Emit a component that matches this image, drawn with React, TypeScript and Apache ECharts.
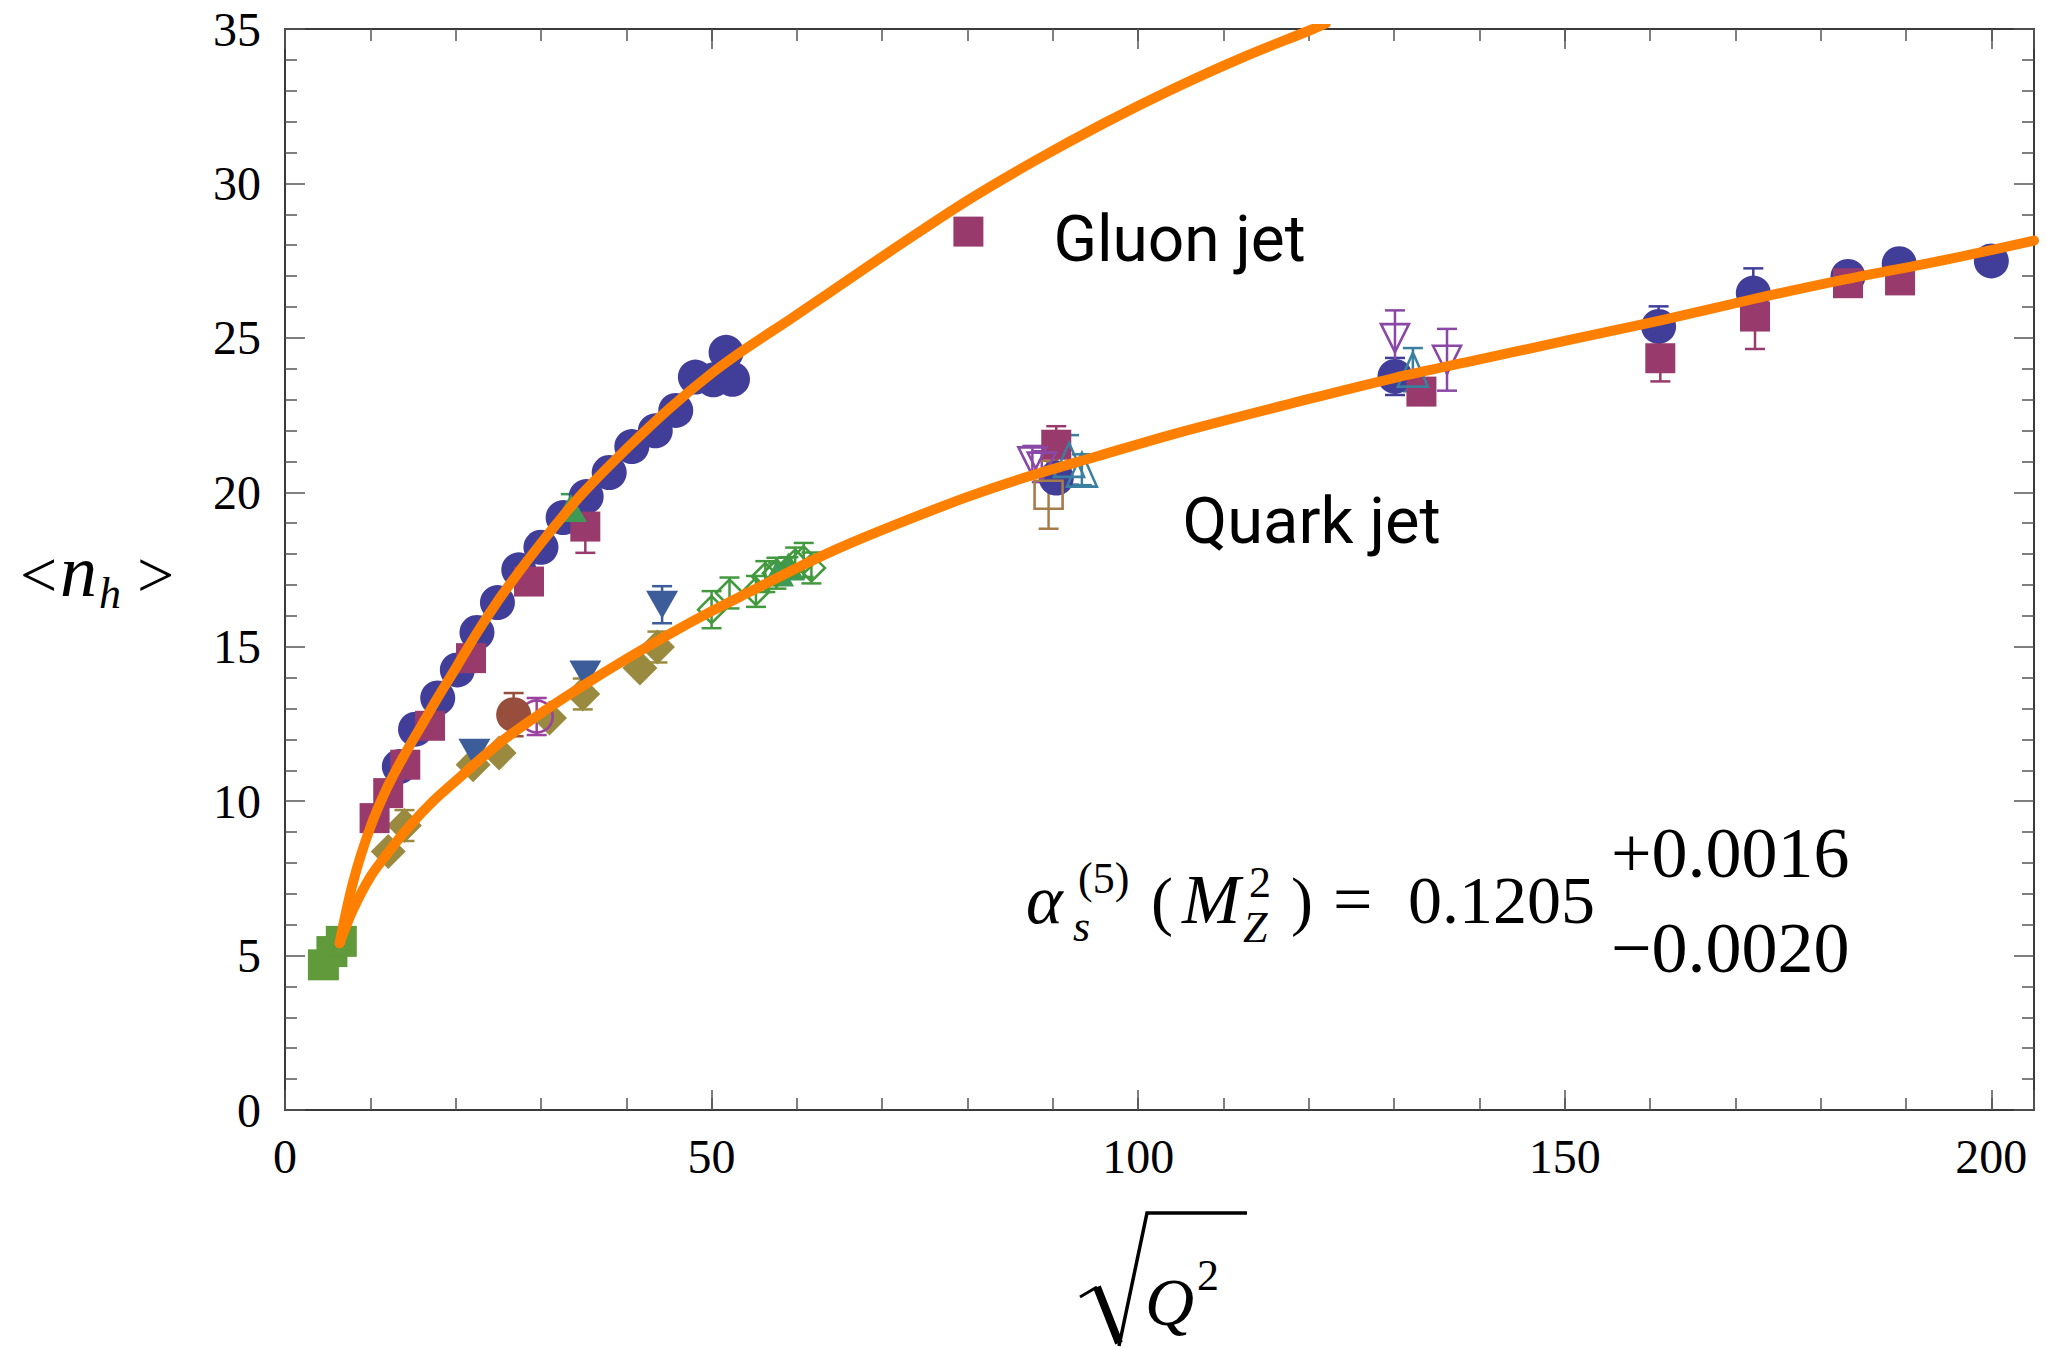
import React, { useEffect, useRef } from 'react';
import * as echarts from 'echarts';

const W = 2047;
const H = 1348;

// ---- data (x = sqrt(Q^2), y = <n_h>, third value = error) ----
const gluonCurve = [[6.4,5.4],[8,7.4],[10,9.15],[12,10.45],[14,11.5],[16,12.45],[18,13.4],[20,14.3],[22.5,15.45],[25,16.5],[27.5,17.45],[30,18.35],[32.5,19.2],[35,20.0],[40,21.4],[45,22.7],[50,23.85],[54,24.65],[59.2,25.6],[64,26.5],[72,28.0],[80,29.45],[88,30.75],[96,31.95],[104,33.05],[112,34.05],[120.5,35.0],[122,35.18]];
const quarkCurve = [[6.4,5.4],[8,6.5],[10,7.55],[12,8.3],[14,9.0],[17,9.9],[20,10.65],[25,11.85],[30,12.85],[35,13.75],[40,14.6],[45,15.4],[50,16.15],[55,16.85],[60,17.55],[65,18.2],[72,19.0],[80,19.85],[87,20.5],[95,21.15],[105,21.95],[119,22.95],[130,23.7],[140,24.3],[150,24.9],[161,25.55],[172,26.25],[183,26.9],[195,27.55],[205,28.15]];

const blueCircles = [[13.4,11.12,0],[15.3,12.33,0],[17.9,13.34,0],[20.2,14.25,0],[22.5,15.46,0],[24.9,16.43,0],[27.4,17.49,0],[30.0,18.22,0],[32.6,19.18,0],[35.3,19.86,0],[38.0,20.64,0],[40.65,21.48,0],[43.4,21.99,0],[45.8,22.65,0],[48.1,23.73,0],[50.2,23.64,0],[51.7,24.53,0],[52.45,23.66,0],[90.4,20.46,0.3],[130.1,23.75,0.6],[161.0,25.37,0.65],[172.1,26.45,0.8],[183.2,26.99,0.3],[189.2,27.4,0.2],[200.0,27.49,0.2]];
const purpleSquares = [[10.5,9.45,0],[12.1,10.26,0],[14.1,11.18,0],[17.0,12.44,0],[21.8,14.63,0],[28.6,17.11,0],[35.2,18.89,0.85],[90.4,21.54,0.6],[133.2,23.26,0.4],[161.2,24.34,0.75],[172.3,25.69,1.05],[183.2,26.77,0.4],[189.3,26.86,0.3]];
const gluonMarker = [[80.1,28.44]];
const quarkLabelAnchor = [[105.2,19.08]];
const greenSquares = [[4.5,4.7,0],[5.5,5.13,0],[6.6,5.46,0]];
const greenTriangles = [[33.5,19.49,0.45],[57.8,17.4,0.3],[59.0,17.6,0.3]];
const oliveDiamonds = [[12.1,8.37,0],[14.0,9.21,0.5],[22.05,11.18,0],[25.1,11.56,0],[31.0,12.69,0],[34.9,13.47,0.5],[41.6,14.31,0],[43.65,14.99,0.5]];
const blueTriDown = [[22.2,11.57,0],[35.2,14.1,0],[44.2,16.36,0.6]];
const brownCircles = [[26.8,12.8,0.7]];
const purpleOpenCircles = [[29.5,12.74,0.6]];
const greenOpenDiamonds = [[50.0,16.2,0.6],[52.1,16.74,0.5],[55.2,16.79,0.5],[56.3,17.27,0.5],[57.6,17.38,0.5],[59.8,17.71,0.5],[60.8,17.81,0.55],[61.7,17.55,0.5]];
const purpleOpenTriDown = [[87.6,21.0,0.5],[88.7,20.83,0.5],[130.1,24.99,0.9],[136.2,24.29,1.0]];
const brownOpenSquares = [[89.5,19.92,1.1]];
const tealOpenTri = [[91.9,21.05,0.8],[93.4,20.73,0.5],[132.2,23.97,0.7]];

const xTicksMajor = [0, 50, 100, 150, 200];

const SERIF = '"Liberation Serif", "Times New Roman", serif';
const SANS = 'Roboto, "Liberation Sans", sans-serif';
const ORANGE = '#FF8000';

function errSeries(data: number[][], color: string) {
  return {
    type: 'custom',
    clip: true,
    silent: true,
    data,
    encode: { x: 0, y: 1 },
    renderItem: (params: any, api: any) => {
      const x = api.value(0), y = api.value(1), e = api.value(2);
      if (!e) return null;
      const p1 = api.coord([x, y + e]);
      const p2 = api.coord([x, y - e]);
      const hw = 10;
      const style = { stroke: color, lineWidth: 2.5, fill: 'none' };
      return {
        type: 'group',
        children: [
          { type: 'line', shape: { x1: p1[0], y1: p1[1], x2: p2[0], y2: p2[1] }, style },
          { type: 'line', shape: { x1: p1[0] - hw, y1: p1[1], x2: p1[0] + hw, y2: p1[1] }, style },
          { type: 'line', shape: { x1: p2[0] - hw, y1: p2[1], x2: p2[0] + hw, y2: p2[1] }, style },
        ],
      };
    },
  };
}

function scatter(data: number[][], color: string, symbol: string, size: any, open = false, rotate = 0) {
  return {
    type: 'scatter',
    silent: true,
    data: data.map((d) => [d[0], d[1]]),
    symbol,
    symbolSize: size,
    symbolRotate: rotate,
    itemStyle: open
      ? { color: 'rgba(255,255,255,0)', borderColor: color, borderWidth: 2.6, opacity: 1 }
      : { color, opacity: 1 },
  };
}

function group(data: number[][], color: string, symbol: string, size: any, open = false, rotate = 0) {
  return [errSeries(data, color), scatter(data, color, symbol, size, open, rotate)];
}

function txt(text: string, x: number, baseline: number, size: number, italic = false, family = SERIF) {
  return {
    type: 'text',
    x,
    y: baseline - 0.34 * size,
    silent: true,
    style: {
      text,
      font: `${italic ? 'italic ' : ''}${size}px ${family}`,
      fill: '#000',
      textAlign: 'left',
      textVerticalAlign: 'middle',
      verticalAlign: 'middle',
    },
  };
}

const axisLineStyle = { color: '#3a3a3a', width: 2 };
const tickStyle = { color: '#555', width: 1.5 };

function xAxes() {
  const base = { type: 'value', min: 0, max: 205, splitLine: { show: false } };
  return [
    {
      ...base, position: 'bottom', interval: 50,
      axisLine: { show: true, onZero: false, lineStyle: axisLineStyle },
      axisTick: { show: true, inside: true, length: 20, lineStyle: tickStyle },
      axisLabel: {
        show: true, margin: 22, fontFamily: SERIF, fontSize: 48, color: '#000',
        formatter: (v: number) => (xTicksMajor.indexOf(v) >= 0 ? String(v) : ''),
      },
    },
    {
      ...base, position: 'bottom', interval: 10,
      axisLine: { show: false, onZero: false },
      axisTick: { show: true, inside: true, length: 12, lineStyle: tickStyle },
      axisLabel: { show: false },
    },
    {
      ...base, position: 'top', interval: 50,
      axisLine: { show: true, onZero: false, lineStyle: axisLineStyle },
      axisTick: { show: true, inside: true, length: 20, lineStyle: tickStyle },
      axisLabel: { show: false },
    },
    {
      ...base, position: 'top', interval: 10,
      axisLine: { show: false, onZero: false },
      axisTick: { show: true, inside: true, length: 12, lineStyle: tickStyle },
      axisLabel: { show: false },
    },
  ];
}

function yAxes() {
  const base = {
    type: 'value', min: 0, max: 35, interval: 5, splitLine: { show: false },
    axisLine: { show: true, onZero: false, lineStyle: axisLineStyle },
    axisTick: { show: true, inside: true, length: 20, lineStyle: tickStyle },
    minorTick: { show: true, splitNumber: 5, length: 12, lineStyle: tickStyle },
  };
  return [
    { ...base, position: 'left', axisLabel: { show: true, margin: 24, fontFamily: SERIF, fontSize: 48, color: '#000' } },
    { ...base, position: 'right', axisLabel: { show: false } },
  ];
}

export default function App() {
  const ref = useRef<HTMLDivElement>(null);
  useEffect(() => {
    document.body.style.margin = '0';
    const chart = echarts.init(ref.current as HTMLDivElement, null, { renderer: 'svg', width: W, height: H });

    const lineBase = { type: 'line', smooth: 0.35, showSymbol: false, symbol: 'none', silent: true, clip: true, lineStyle: { color: ORANGE, width: 10, cap: 'round', join: 'round' } };

    const series: any[] = [
      { ...lineBase, data: gluonCurve },
      { ...lineBase, data: quarkCurve },
      ...group(oliveDiamonds, '#9A8A40', 'diamond', 35),
      ...group(purpleOpenCircles, '#9B42A0', 'circle', 32, true),
      ...group(brownCircles, '#984E3C', 'circle', 35),
      ...group(blueTriDown, '#3D5D9A', 'triangle', [32, 28], false, 180),
      ...group(greenSquares, '#619A3B', 'rect', 31),
      ...group(blueCircles, '#413E9A', 'circle', 35),
      ...group(purpleSquares, '#993A6C', 'rect', 30),
      ...group(greenTriangles, '#3F9A55', 'triangle', [32, 28]),
      ...group(greenOpenDiamonds, '#43993E', 'diamond', 27, true),
      ...group(purpleOpenTriDown, '#8A48A6', 'triangle', [28, 28], true, 180),
      ...group(brownOpenSquares, '#A67C4A', 'rect', 28, true),
      ...group(tealOpenTri, '#3A7F9F', 'triangle', [30, 34], true),
      {
        type: 'scatter', silent: true, data: gluonMarker, symbol: 'rect', symbolSize: 30,
        itemStyle: { color: '#993A6C', opacity: 1 },
        label: { show: true, formatter: 'Gluon jet', position: 'right', distance: 70, offset: [0, 8], fontFamily: SANS, fontWeight: 400, fontSize: 64, color: '#000' },
      },
      {
        type: 'scatter', silent: true, data: quarkLabelAnchor, symbol: 'rect', symbolSize: 0,
        itemStyle: { color: 'rgba(0,0,0,0)', opacity: 1 },
        label: { show: true, formatter: 'Quark jet', position: 'right', distance: 0, fontFamily: SANS, fontWeight: 400, fontSize: 65, color: '#000' },
      },
    ];
    series.forEach((s) => { s.xAxisIndex = 0; s.yAxisIndex = 0; });

    const graphic: any[] = [
      // y axis title <n_h>
      txt('<', 20, 597, 66),
      txt('n', 60, 596, 74, true),
      txt('h', 99, 608, 44, true),
      txt('>', 137, 597, 66),
      // x axis title sqrt(Q^2)
      { type: 'polyline', silent: true, shape: { points: [[1080, 1297], [1097, 1287]] }, style: { stroke: '#000', lineWidth: 3, fill: 'none' } },
      { type: 'line', silent: true, shape: { x1: 1097, y1: 1287, x2: 1119, y2: 1343 }, style: { stroke: '#000', lineWidth: 8 } },
      { type: 'polyline', silent: true, shape: { points: [[1119, 1346], [1147, 1213], [1247, 1213]] }, style: { stroke: '#000', lineWidth: 3.5, fill: 'none' } },
      txt('Q', 1145, 1325, 68, true),
      txt('2', 1197, 1290, 44),
      // equation
      txt('α', 1026, 923, 70, true),
      txt('(5)', 1078, 893, 44),
      txt('s', 1073, 941, 44, true),
      txt('(', 1151, 923, 66),
      txt('M', 1182, 923, 70, true),
      txt('2', 1249, 897, 44),
      txt('Z', 1243, 942, 44, true),
      txt(')', 1291, 923, 66),
      txt('=', 1333, 923, 70),
      txt('0.1205', 1408, 923, 68),
      txt('+0.0016', 1611, 877, 72),
      txt('−0.0020', 1611, 972, 72),
    ];

    chart.setOption({
      animation: false,
      backgroundColor: '#fff',
      grid: { left: 285, right: 13, top: 29, bottom: 238, containLabel: false },
      xAxis: xAxes(),
      yAxis: yAxes(),
      series,
      graphic,
    });
    return () => chart.dispose();
  }, []);
  return <div ref={ref} style={{ position: 'absolute', left: 0, top: 0, width: W, height: H }} />;
}
